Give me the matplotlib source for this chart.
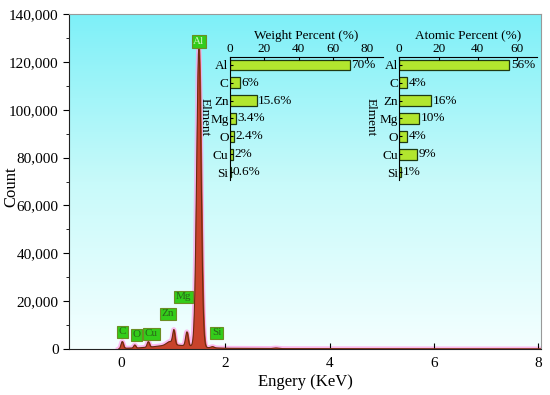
import numpy as np
import matplotlib.pyplot as plt
from matplotlib.colors import LinearSegmentedColormap
import matplotlib.ticker as mticker

plt.rcParams['font.family'] = ['Liberation Serif', 'DejaVu Serif']

# EDS spectrum: peak energy (keV), height (counts), width (keV)
peak_kev = [0.02, 0.26, 0.52, 0.93, 1.01, 1.26, 1.49, 1.75, 2.97]
peak_cnt = [2800, 1300, 2300, 1500, 5800, 5800, 125000, 500, 250]
peak_wid = [0.022, 0.02, 0.022, 0.06, 0.022, 0.024, 0.042, 0.03, 0.05]

# continuum under the peaks (keV, counts)
bg_kev = [-0.05, 0.0, 0.3, 0.6, 0.8, 1.0, 1.3, 1.6, 2.0, 3.0, 5.0, 8.05]
bg_cnt = [0, 300, 400, 900, 1400, 1700, 1300, 600, 300, 150, 60, 20]

# element labels on the spectrum
lab_names = ['C', 'O', 'Cu', 'Zn', 'Mg', 'Al', 'Si']
lab_kev = [0.02, 0.29, 0.58, 0.90, 1.19, 1.49, 1.83]
lab_cnt = [7100, 5900, 6300, 14700, 21800, 128500, 6700]

elements = ['Al', 'C', 'Zn', 'Mg', 'O', 'Cu', 'Si']
weight_pct = [70, 6, 15.6, 3.4, 2.4, 2, 0.6]
weight_txt = ['70%', '6%', '15.6%', '3.4%', '2.4%', '2%', '0.6%']
atomic_pct = [56, 4, 16, 10, 4, 9, 1]
atomic_txt = ['56%', '4%', '16%', '10%', '4%', '9%', '1%']

fig = plt.figure(figsize=(5.5, 3.95), dpi=100)
ax = fig.add_axes([0.1255, 0.1165, 0.858, 0.848])

# gradient background
grad = LinearSegmentedColormap.from_list('bg', ['#f4ffff', '#c8fafa', '#7ef0f8'])
ax.imshow(np.linspace(0, 1, 256).reshape(-1, 1), cmap=grad, aspect='auto',
          extent=[0, 1, 0, 1], transform=ax.transAxes, origin='lower', zorder=0)

x = np.linspace(-0.05, 8.05, 4000)
y = np.interp(x, bg_kev, bg_cnt)
for e, h, w in zip(peak_kev, peak_cnt, peak_wid):
    y = y + h * np.exp(-0.5 * ((x - e) / w) ** 2)

ax.plot(x, y, color='#ff9ee8', lw=3.5, alpha=0.7, zorder=1)
ax.fill_between(x, 0, y, color='#c8432b', zorder=2)
ax.plot(x, y, color='#6b2a10', lw=0.8, zorder=3)

for name, e, c in zip(lab_names, lab_kev, lab_cnt):
    tc = '#c8f5c0' if name == 'Al' else '#2a6419'
    ax.text(e, c, name, ha='center', va='center', fontsize=8, color=tc, zorder=5,
            bbox=dict(boxstyle='square,pad=0.15', fc='#33cc1a', ec='#6b8e23', lw=0.8))

ax.set_xlim(-1, 8.05)
ax.set_ylim(0, 140000)
ax.xaxis.set_major_locator(mticker.MultipleLocator(2))
ax.yaxis.set_major_locator(mticker.MultipleLocator(20000))
ax.yaxis.set_minor_locator(mticker.MultipleLocator(10000))
ax.yaxis.set_major_formatter(mticker.FuncFormatter(lambda v, p: f'{int(v):,}'))
ax.tick_params(axis='x', direction='in', labelsize=11, length=4, pad=6)
ax.tick_params(axis='y', direction='out', labelsize=11, length=4)
ax.tick_params(axis='y', which='minor', direction='out', length=2.5)
ax.set_xlabel('Engery (KeV)', fontsize=12, labelpad=3)
ax.set_ylabel('Count', fontsize=12)
ax.yaxis.set_label_coords(-0.106, 0.485)
for side in ['top', 'right']:
    ax.spines[side].set_color('#999999')
for side in ['left', 'bottom']:
    ax.spines[side].set_color('#222222')


def inset(rect, vals, txts, xmax, ticks, title, lab_x):
    a = fig.add_axes(rect)
    a.patch.set_alpha(0)
    pos = np.arange(len(elements))
    a.barh(pos, vals, height=0.6, color='#b2e62e', edgecolor='#1e3a14', lw=0.9)
    for p, v, t in zip(pos, vals, txts):
        a.text(v + 0.8, p, t, va='center', ha='left', fontsize=9.5)
    a.set_xlim(0, xmax)
    a.set_ylim(len(elements) - 0.55, -0.45)
    a.set_yticks(pos)
    a.set_yticklabels(elements)
    a.set_xticks(ticks)
    a.xaxis.tick_top()
    a.xaxis.set_label_position('top')
    a.set_xlabel(title, fontsize=9.5, labelpad=3)
    a.text(lab_x, 0.51, 'Elment', transform=a.transAxes, rotation=270,
           ha='center', va='center', fontsize=9.5)
    a.tick_params(direction='in', labelsize=9.5, length=2.5, pad=1)
    a.spines['right'].set_visible(False)
    a.spines['bottom'].set_visible(False)
    return a


inset([0.418, 0.544, 0.278, 0.312], weight_pct, weight_txt, 89, [0, 20, 40, 60, 80],
      'Weight Percent (%)', -0.165)
inset([0.726, 0.544, 0.25, 0.312], atomic_pct, atomic_txt, 70, [0, 20, 40, 60],
      'Atomic Percent (%)', -0.21)

fig.savefig('out.png', dpi=100)
